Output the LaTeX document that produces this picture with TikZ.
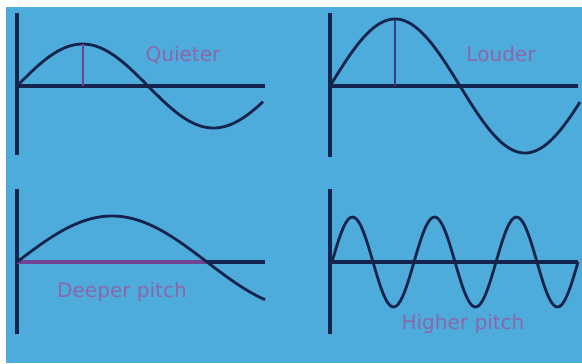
\documentclass[tikz,border=0pt]{standalone}
\usepackage{fontspec}
\setmainfont{DejaVu Sans}
\usepackage{xcolor}
\definecolor{soundbg}{RGB}{78, 172, 221}
\definecolor{soundnavy}{RGB}{20, 36, 76}
\definecolor{soundplum}{RGB}{112, 68, 146}
\definecolor{soundink}{RGB}{58, 58, 128}
\definecolor{soundlabel}{RGB}{140, 102, 168}

\begin{document}
\begin{tikzpicture}[
        x=0.02cm, y=-0.02cm,
        axis/.style={draw=soundnavy, line width=1.8pt},
        wave/.style={draw=soundnavy, line width=1.6pt, samples=120, smooth},
        ampline/.style={line width=1.3pt},
        lbl/.style={anchor=base, inner sep=0pt, text=soundlabel, font=\fontsize{11.4pt}{13pt}\selectfont}
      ]
        \useasboundingbox (0,0) rectangle (582,363);
        \fill[white] (0,0) rectangle (582,363);
        \fill[soundbg] (6,7) rectangle (582,363);

        % origins of the four graphs
        \coordinate (O1) at (17,86);
        \coordinate (O2) at (330,86);
        \coordinate (O3) at (17,262);
        \coordinate (O4) at (330,262);

        % Quieter
        \coordinate (T1) at (17,13);
        \coordinate (B1) at (17,155);
        \coordinate (E1) at (265,86);
        \coordinate (P1) at (83,44);
        \coordinate (F1) at (83,86);
        \draw[axis] (T1) -- (B1);
        \draw[axis] (O1) -- (E1);
        \draw[wave] plot[domain=17:263] (\x, {86-42*sin((\x-17)/131*180)});
        \draw[ampline, soundplum] (P1) -- (F1);
        \node[lbl] (quiet) at (183,61) {Quieter};

        % Louder
        \coordinate (T2) at (330,13);
        \coordinate (B2) at (330,157);
        \coordinate (E2) at (578,86);
        \coordinate (P2) at (395,20);
        \coordinate (F2) at (395,86);
        \draw[axis] (T2) -- (B2);
        \draw[axis] (O2) -- (E2);
        \draw[wave] plot[domain=330:580] (\x, {86-67*sin((\x-330)/130*180)});
        \draw[ampline, soundink] (P2) -- (F2);
        \node[lbl] (loud) at (501,61) {Louder};

        % Deeper pitch
        \coordinate (T3) at (17,189);
        \coordinate (B3) at (17,334);
        \coordinate (E3) at (265,262);
        \coordinate (C3) at (207,262);
        \draw[axis] (T3) -- (B3);
        \draw[axis] (O3) -- (E3);
        \draw[ampline, soundplum, line width=1.8pt] (O3) -- (C3);
        \draw[wave] plot[domain=17:265] (\x, {262-46*sin((\x-17)/190*180)});
        \node[lbl] (deep) at (122,297) {Deeper pitch};

        % Higher pitch
        \coordinate (T4) at (330,189);
        \coordinate (B4) at (330,334);
        \coordinate (E4) at (578,262);
        \draw[axis] (T4) -- (B4);
        \draw[axis] (O4) -- (E4);
        \draw[wave] plot[domain=332:578] (\x, {262-45*sin((\x-332)/82*360)});
        \node[lbl] (high) at (463,329) {Higher pitch};
      \end{tikzpicture}
\end{document}
